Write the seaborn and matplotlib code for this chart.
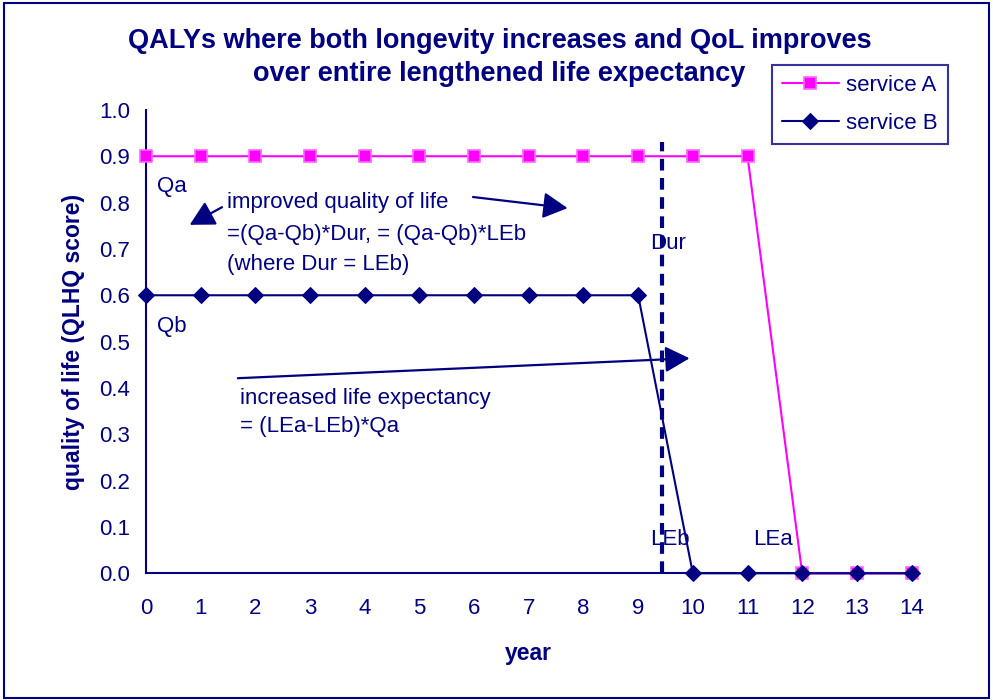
import pandas as pd
import seaborn as sns
import matplotlib.pyplot as plt
from matplotlib.patches import Rectangle

# chart data
years = list(range(15))
service_a = [0.9, 0.9, 0.9, 0.9, 0.9, 0.9, 0.9, 0.9, 0.9, 0.9, 0.9, 0.9, 0.0, 0.0, 0.0]
service_b = [0.6, 0.6, 0.6, 0.6, 0.6, 0.6, 0.6, 0.6, 0.6, 0.6, 0.0, 0.0, 0.0, 0.0, 0.0]
dur = 9.43

navy = '#000080'
pink = '#FF00FF'

sns.set_style('white')
plt.rcParams['font.family'] = ['Liberation Sans', 'DejaVu Sans']
plt.rcParams['text.color'] = navy

df = pd.DataFrame({'year': years, 'service A': service_a, 'service B': service_b})

fig = plt.figure(figsize=(9.93, 7.0), dpi=100)
ax = fig.add_axes([0.147, 0.181, 0.771, 0.662])

sns.lineplot(data=df, x='year', y='service A', ax=ax, color=pink, lw=1.5,
             marker='s', markersize=9, markerfacecolor=pink, markeredgecolor='#ff66ff',
             markeredgewidth=1.2, label='service A', clip_on=False, zorder=3)
sns.lineplot(data=df, x='year', y='service B', ax=ax, color=navy, lw=1.5,
             marker='D', markersize=8, markerfacecolor=navy, markeredgecolor=navy,
             label='service B', clip_on=False, zorder=4)

# duration marker
ax.plot([dur, dur], [0, 0.93], color=navy, lw=3, ls=(0, (2.8, 1.8)), zorder=1)

ax.set_xlim(0, 14)
ax.set_ylim(0, 1.0)
ax.set_xticks(years)
ax.set_yticks([i / 10 for i in range(11)])
ax.set_yticklabels([f'{i / 10:.1f}' for i in range(11)])
for s in ['top', 'right']:
    ax.spines[s].set_visible(False)
for s in ['left', 'bottom']:
    ax.spines[s].set_color(navy)
    ax.spines[s].set_linewidth(1.5)
ax.tick_params(axis='both', direction='inout', length=10, width=1.2, color=navy,
               labelcolor=navy, labelsize=16)
ax.tick_params(axis='x', pad=13)
ax.tick_params(axis='y', pad=6.5)
ax.set_xlabel('year', fontsize=16.5, fontweight='bold', color=navy, labelpad=16)
ax.set_ylabel('quality of life (QLHQ score)', fontsize=16.5, fontweight='bold', color=navy, labelpad=10)

# annotations
txt = dict(fontsize=16, color=navy, va='center')
ax.text(0.2, 0.835, 'Qa', **txt)
ax.text(0.2, 0.533, 'Qb', **txt)
ax.text(1.48, 0.800, 'improved quality of life', **txt)
ax.text(1.48, 0.731, '=(Qa-Qb)*Dur, = (Qa-Qb)*LEb', **txt)
ax.text(1.48, 0.666, '(where Dur = LEb)', **txt)
ax.text(9.21, 0.712, 'Dur', **txt)
ax.text(1.72, 0.377, 'increased life expectancy', **txt)
ax.text(1.72, 0.317, '= (LEa-LEb)*Qa', **txt)
ax.text(9.21, 0.073, 'LEb', **txt)
ax.text(11.11, 0.073, 'LEa', **txt)

arrow = dict(arrowstyle='-|>,head_length=1.5,head_width=0.8', color=navy, lw=1.6,
             shrinkA=0, shrinkB=0)
ax.annotate('', xy=(0.8, 0.752), xytext=(1.39, 0.79), arrowprops=arrow)
ax.annotate('', xy=(7.71, 0.788), xytext=(5.98, 0.812), arrowprops=arrow)
ax.annotate('', xy=(9.94, 0.464), xytext=(1.68, 0.421), arrowprops=arrow)

leg = ax.legend(loc='upper left', bbox_to_anchor=(0.777, 0.907), bbox_transform=fig.transFigure,
                fontsize=16, frameon=True, fancybox=False, borderpad=0.45,
                handlelength=2.6, handletextpad=0.3, labelspacing=0.75, borderaxespad=0)
leg.get_frame().set_edgecolor(navy)
leg.get_frame().set_linewidth(1.5)
for t in leg.get_texts():
    t.set_color(navy)

fig.text(0.503, 0.941, 'QALYs where both longevity increases and QoL improves',
         ha='center', va='center', fontsize=19.5, fontweight='bold', color=navy)
fig.text(0.503, 0.894, 'over entire lengthened life expectancy',
         ha='center', va='center', fontsize=19.5, fontweight='bold', color=navy)

fig.patches.append(Rectangle((0.004, 0.003), 0.992, 0.993, transform=fig.transFigure,
                             fill=False, edgecolor=navy, lw=1.5))

fig.savefig('out.png', dpi=100)
